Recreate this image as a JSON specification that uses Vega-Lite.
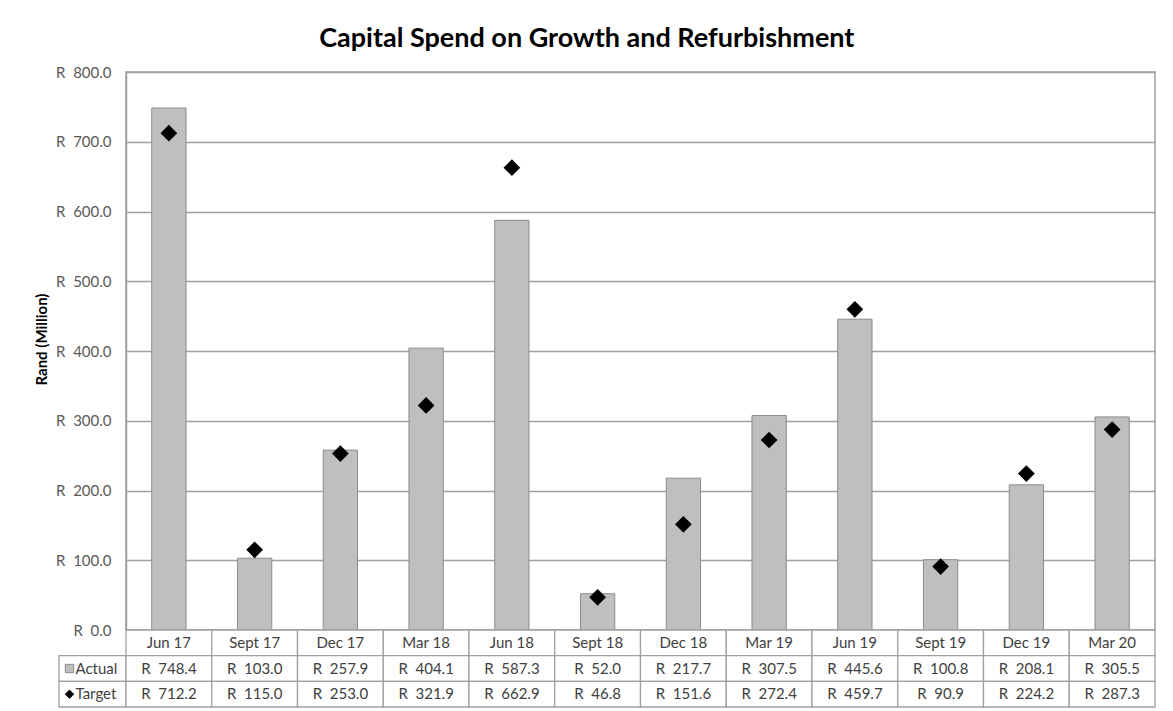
{
  "$schema": "https://vega.github.io/schema/vega-lite/v6.json",
  "padding": {"left": 33, "top": 25, "right": 10, "bottom": 2},
  "background": "white",
  "title": {"text": "Capital Spend on Growth and Refurbishment", "font": "Lato", "fontSize": 27, "fontWeight": "bold", "color": "#000000", "anchor": "middle", "dx": -8, "offset": 11},
  "datasets": {
    "d": [
      {"q": "Jun 17", "Actual": 748.4, "Target": 712.2},
      {"q": "Sept 17", "Actual": 103.0, "Target": 115.0},
      {"q": "Dec 17", "Actual": 257.9, "Target": 253.0},
      {"q": "Mar 18", "Actual": 404.1, "Target": 321.9},
      {"q": "Jun 18", "Actual": 587.3, "Target": 662.9},
      {"q": "Sept 18", "Actual": 52.0, "Target": 46.8},
      {"q": "Dec 18", "Actual": 217.7, "Target": 151.6},
      {"q": "Mar 19", "Actual": 307.5, "Target": 272.4},
      {"q": "Jun 19", "Actual": 445.6, "Target": 459.7},
      {"q": "Sept 19", "Actual": 100.8, "Target": 90.9},
      {"q": "Dec 19", "Actual": 208.1, "Target": 224.2},
      {"q": "Mar 20", "Actual": 305.5, "Target": 287.3}
    ],
    "series": [{"series": "Actual"}, {"series": "Target"}]
  },
  "columns": 2,
  "spacing": 0,
  "bounds": "flush",
  "align": "each",
  "concat": [
    {
      "width": 67, "height": 558,
      "view": {"stroke": null},
      "data": {"values": [{}]},
      "mark": {"type": "text"},
      "encoding": {"text": {"value": ""}}
    },
    {
      "width": 1029, "height": 558,
      "view": {"stroke": "#A0A0A0", "strokeWidth": 1.5},
      "data": {"name": "d"},
      "encoding": {
        "x": {"field": "q", "type": "nominal", "sort": null, "scale": {"paddingInner": 0.6, "paddingOuter": 0.3}, "axis": null}
      },
      "layer": [
        {
          "mark": {"type": "bar", "fill": "#BFBFBF", "stroke": "#8C8C8C", "strokeWidth": 1},
          "encoding": {
            "y": {"field": "Actual", "type": "quantitative", "scale": {"domain": [0, 800], "nice": false},
              "axis": {"values": [0, 100, 200, 300, 400, 500, 600, 700, 800], "format": "$.1f", "grid": true, "gridColor": "#A0A0A0", "gridWidth": 1.3, "domain": true, "domainColor": "#A0A0A0", "domainWidth": 1.5, "ticks": false, "labelPadding": 15, "labelFont": "Lato", "labelFontSize": 15, "labelColor": "#595959", "title": "Rand (Million)", "titleFont": "Lato", "titleFontSize": 15, "titleFontWeight": "bold", "titleColor": "#000000", "titlePadding": 6, "titleY": 267}}
          }
        },
        {
          "mark": {"type": "point", "shape": "diamond", "filled": true, "color": "#000000", "size": 280, "opacity": 1},
          "encoding": {
            "y": {"field": "Target", "type": "quantitative"}
          }
        }
      ]
    },
    {
      "width": 67, "height": 77,
      "view": {"stroke": null},
      "data": {"name": "series"},
      "encoding": {
        "y": {"field": "series", "type": "nominal", "scale": {"domain": ["Category", "Actual", "Target"], "paddingInner": 0, "paddingOuter": 0}, "axis": null}
      },
      "layer": [
        {
          "mark": {"type": "rect", "fill": "white", "stroke": "#A0A0A0", "strokeWidth": 1.3}
        },
        {
          "mark": {"type": "point", "filled": true, "size": 70, "xOffset": -23, "strokeWidth": 1, "opacity": 1},
          "encoding": {
            "shape": {"field": "series", "type": "nominal", "scale": {"domain": ["Actual", "Target"], "range": ["square", "diamond"]}, "legend": null},
            "fill": {"field": "series", "type": "nominal", "scale": {"domain": ["Actual", "Target"], "range": ["#BFBFBF", "#000000"]}, "legend": null},
            "stroke": {"field": "series", "type": "nominal", "scale": {"domain": ["Actual", "Target"], "range": ["#8C8C8C", "#000000"]}, "legend": null}
          }
        },
        {
          "mark": {"type": "text", "align": "left", "dx": -17, "font": "Lato", "fontSize": 15, "color": "#404040"},
          "encoding": {"text": {"field": "series", "type": "nominal"}}
        }
      ]
    },
    {
      "width": 1029, "height": 77,
      "view": {"stroke": null},
      "data": {"name": "d"},
      "encoding": {
        "x": {"field": "q", "type": "nominal", "sort": null, "scale": {"paddingInner": 0, "paddingOuter": 0}, "axis": null}
      },
      "layer": [
        {
          "mark": {"type": "rect", "fill": "white", "stroke": "#A0A0A0", "strokeWidth": 1.3},
          "encoding": {
            "y": {"datum": "Category", "type": "nominal", "scale": {"domain": ["Category", "Actual", "Target"], "paddingInner": 0, "paddingOuter": 0}, "axis": null}
          }
        },
        {
          "mark": {"type": "text", "font": "Lato", "fontSize": 15, "color": "#404040"},
          "encoding": {
            "y": {"datum": "Category", "type": "nominal"},
            "text": {"field": "q", "type": "nominal"}
          }
        },
        {
          "transform": [{"fold": ["Actual", "Target"], "as": ["series", "value"]}],
          "mark": {"type": "rect", "fill": "white", "stroke": "#A0A0A0", "strokeWidth": 1.3},
          "encoding": {
            "y": {"field": "series", "type": "nominal"}
          }
        },
        {
          "transform": [{"fold": ["Actual", "Target"], "as": ["series", "value"]}],
          "mark": {"type": "text", "font": "Lato", "fontSize": 15, "color": "#404040"},
          "encoding": {
            "y": {"field": "series", "type": "nominal"},
            "text": {"field": "value", "type": "quantitative", "format": "$.1f"}
          }
        }
      ]
    }
  ],
  "config": {
    "locale": {"number": {"decimal": ".", "thousands": ",", "grouping": [3], "currency": ["R\u00a0\u00a0", ""]}},
    "font": "Lato"
  }
}
